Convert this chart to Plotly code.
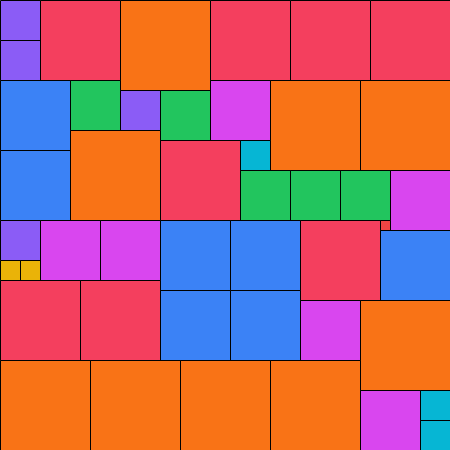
import plotly.graph_objects as go

# Square packing data: left, top, side (side length also sets the colour)
sq_x = [0, 0, 40, 120, 210, 290, 370,
        0, 70, 120, 160, 210, 270, 360,
        0, 70, 160, 240, 240, 290, 340, 390,
        0, 0, 20, 40, 100, 160, 230, 300, 380, 380,
        0, 80, 160, 230, 300, 360,
        0, 90, 180, 270, 360, 420, 420]
sq_y = [0, 40, 0, 0, 0, 0, 0,
        80, 80, 90, 90, 80, 80, 80,
        150, 130, 140, 140, 170, 170, 170, 170,
        220, 260, 260, 220, 220, 220, 220, 220, 220, 230,
        280, 280, 290, 290, 300, 300,
        360, 360, 360, 360, 390, 390, 420]
sq_size = [40, 40, 80, 90, 80, 80, 80,
           70, 50, 40, 50, 60, 90, 90,
           70, 90, 80, 30, 50, 50, 50, 60,
           40, 20, 20, 60, 60, 70, 70, 80, 10, 70,
           80, 80, 70, 70, 60, 90,
           90, 90, 90, 90, 60, 30, 30]

palette = {10: "#ef4444", 20: "#eab308", 30: "#06b6d4", 40: "#8b5cf6",
           50: "#22c55e", 60: "#d946ef", 70: "#3b82f6", 80: "#f43f5e",
           90: "#f97316"}

fig = go.Figure()
for x, y, s in zip(sq_x, sq_y, sq_size):
    fig.add_trace(go.Scatter(
        x=[x, x + s, x + s, x, x],
        y=[y, y, y + s, y + s, y],
        mode="lines", fill="toself",
        fillcolor=palette[s],
        line=dict(color="black", width=1),
        hoverinfo="skip", showlegend=False,
    ))

fig.update_layout(
    width=450, height=450,
    margin=dict(l=0, r=0, t=0, b=0),
    paper_bgcolor="white", plot_bgcolor="white",
    xaxis=dict(range=[-0.5, 449.5], visible=False, fixedrange=True),
    yaxis=dict(range=[449.5, -0.5], visible=False, fixedrange=True),
)
fig.write_html(
    "out.html",
    config={"displayModeBar": False},
    post_script="document.body.style.margin='0';document.body.style.overflow='hidden';",
)
